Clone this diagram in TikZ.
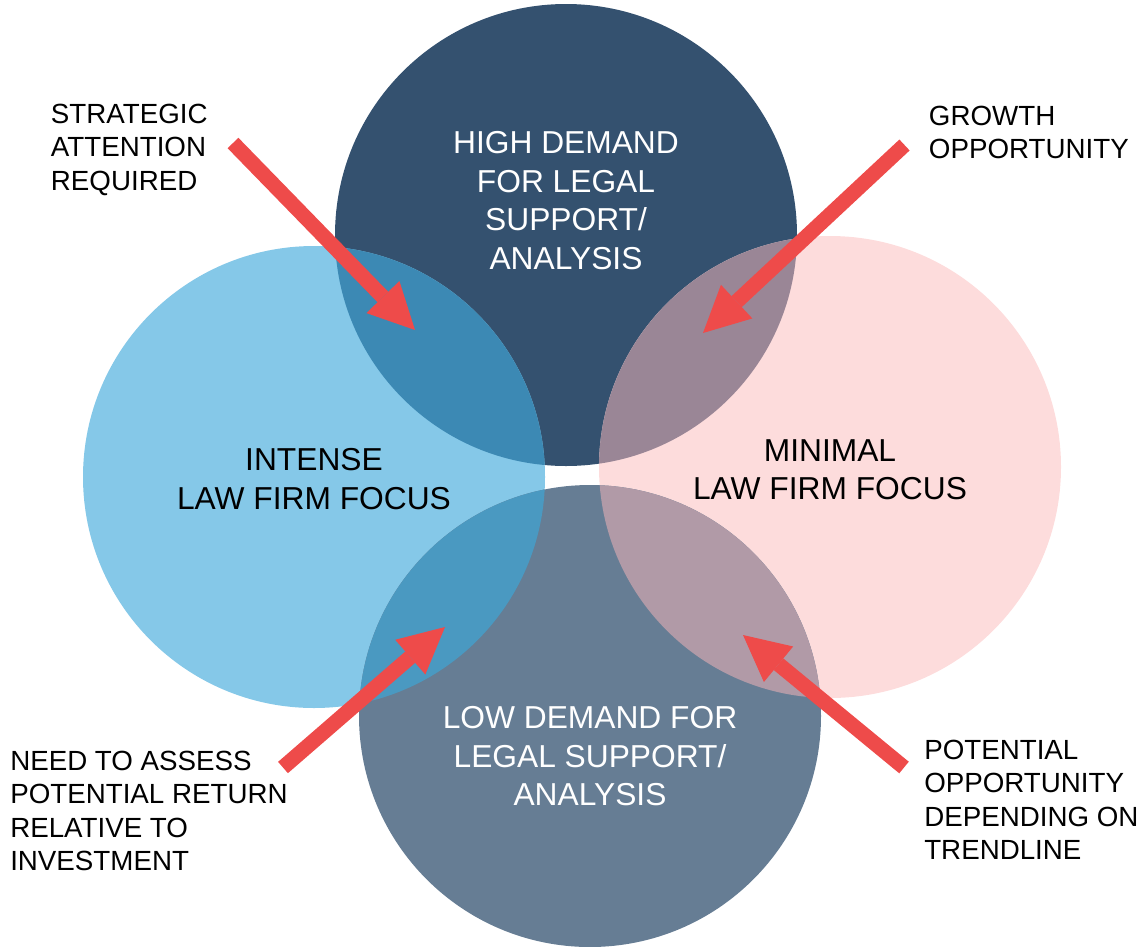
\documentclass[tikz,border=0pt]{standalone}
\usepackage{fontspec}
\setmainfont{Liberation Sans}
\usetikzlibrary{arrows.meta,positioning}
\usepackage{xcolor}

\definecolor{navy}{HTML}{34516F}
\definecolor{skyblue}{HTML}{85C8E8}
\definecolor{blush}{HTML}{FDDCDC}
\definecolor{slate}{HTML}{667D94}
\definecolor{navysky}{HTML}{3C89B4}
\definecolor{navyblush}{HTML}{9A8696}
\definecolor{slatesky}{HTML}{4A99C1}
\definecolor{slateblush}{HTML}{B19AA7}
\definecolor{arrowred}{HTML}{EE4B4A}

\begin{document}
\begin{tikzpicture}[x=0.75pt, y=-0.75pt]

    \tikzstyle{topic} = [
        align=center,
        inner sep=0pt,
        anchor=north,
        font=\fontsize{23.8}{29}\selectfont
    ]
    \tikzstyle{remark} = [
        align=left,
        inner sep=0pt,
        anchor=north west,
        font=\fontsize{20.8}{25}\selectfont
    ]
    \tikzstyle{pointer} = [
        draw=arrowred,
        line width=11.25pt,
        -{Triangle[length=34.5pt,width=34.5pt,line width=0pt]},
    ]

    \useasboundingbox (0,0) rectangle (1144,946);

    % circles
    \coordinate (hi) at (566,235);
    \coordinate (lf) at (314,477);
    \coordinate (rt) at (830,467);
    \coordinate (lo) at (590,716);

    \fill [navy]    (hi) circle (173.25pt);
    \fill [skyblue] (lf) circle (173.25pt);
    \fill [blush]   (rt) circle (173.25pt);
    \fill [slate]   (lo) circle (173.25pt);

    % overlaps
    \begin{scope}
        \clip (hi) circle (173.25pt);
        \fill [navysky]   (lf) circle (173.25pt);
        \fill [navyblush] (rt) circle (173.25pt);
    \end{scope}
    \begin{scope}
        \clip (lo) circle (173.25pt);
        \fill [slatesky]   (lf) circle (173.25pt);
        \fill [slateblush] (rt) circle (173.25pt);
    \end{scope}

    \node [topic, text=white] (hig) at (566,131) {HIGH DEMAND\\FOR LEGAL\\SUPPORT/\\ANALYSIS};
    \node [topic] (int) at (314,448) {INTENSE\\LAW FIRM FOCUS};
    \node [topic] (min) at (830,439) {MINIMAL\\LAW FIRM FOCUS};
    \node [topic, text=white] (low) at (590,706) {LOW DEMAND FOR\\LEGAL SUPPORT/\\ANALYSIS};

    \node [remark] (str) at (50.7,104) {STRATEGIC\\ATTENTION\\REQUIRED};
    \node [remark] (gro) at (928.7,106) {GROWTH\\OPPORTUNITY};
    \node [remark] (nee) at (10,751) {NEED TO ASSESS\\POTENTIAL RETURN\\RELATIVE TO\\INVESTMENT};
    \node [remark] (pot) at (924,740) {POTENTIAL\\OPPORTUNITY\\DEPENDING ON\\TRENDLINE};

    % arrows
    \coordinate (str-a) at (233,143);
    \coordinate (str-b) at (415,330);
    \coordinate (gro-a) at (904.5,145);
    \coordinate (gro-b) at (703,333);
    \coordinate (nee-a) at (283,767.5);
    \coordinate (nee-b) at (445,627);
    \coordinate (pot-a) at (904,767.5);
    \coordinate (pot-b) at (743,635);

    \path [pointer] (str-a) -- (str-b);
    \path [pointer] (gro-a) -- (gro-b);
    \path [pointer] (nee-a) -- (nee-b);
    \path [pointer] (pot-a) -- (pot-b);

\end{tikzpicture}
\end{document}
